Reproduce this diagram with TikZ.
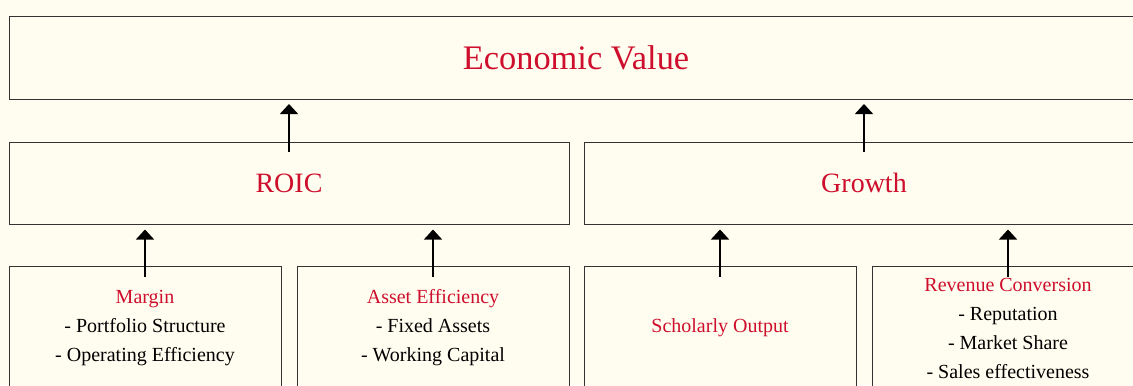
\documentclass[tikz,border=0pt]{standalone}
\usepackage{fontspec}
\setmainfont{Liberation Serif}
\usetikzlibrary{arrows.meta}
\definecolor{evred}{RGB}{206,14,45}
\definecolor{cream}{RGB}{255,253,239}
\begin{document}
\begin{tikzpicture}[x=0.5pt,y=-0.5pt,
    box/.style={draw=black!80,line width=0.5pt,fill=cream,inner sep=0pt,text=evred},
    big/.style={box,minimum width=280pt,minimum height=41pt,font=\fontsize{14}{17}\selectfont},
    small/.style={box,minimum width=136pt,minimum height=62pt,align=center,text=black,font=\fontsize{10}{14.5}\selectfont},
    up/.style={line width=0.7pt,-{Triangle[width=9pt,length=5pt]}}]
  \clip (0,0) rectangle (1133,385);
  \fill [cream] (0,0) rectangle (1133,385);
  \node [box,minimum width=567pt,minimum height=41.5pt,font=\fontsize{17.2}{20}\selectfont] (ev) at (576,58) {Economic Value};
  \node [big] (roic) at (289,183) {ROIC};
  \node [big] (growth) at (864,183) {Growth};
  \node [small] (margin) at (145,328) {\textcolor{evred}{Margin}\\- Portfolio Structure\\- Operating Efficiency};
  \node [small] (asset) at (433,328) {\textcolor{evred}{Asset Efficiency}\\- Fixed Assets\\- Working Capital};
  \node [small] (scholar) at (720,328) {\textcolor{evred}{Scholarly Output}};
  \node [small] (revenue) at (1008,328) {\textcolor{evred}{Revenue Conversion}\\- Reputation\\- Market Share\\- Sales effectiveness};
  \draw [up] ([yshift=-5pt]roic.north) -- ([yshift=-2pt]roic.north |- ev.south);
  \draw [up] ([yshift=-5pt]growth.north) -- ([yshift=-2pt]growth.north |- ev.south);
  \draw [up] ([yshift=-5.5pt]margin.north) -- ([yshift=-2.5pt]margin.north |- roic.south);
  \draw [up] ([yshift=-5.5pt]asset.north) -- ([yshift=-2.5pt]asset.north |- roic.south);
  \draw [up] ([yshift=-5.5pt]scholar.north) -- ([yshift=-2.5pt]scholar.north |- growth.south);
  \draw [up] ([yshift=-5.5pt]revenue.north) -- ([yshift=-2.5pt]revenue.north |- growth.south);
\end{tikzpicture}
\end{document}
